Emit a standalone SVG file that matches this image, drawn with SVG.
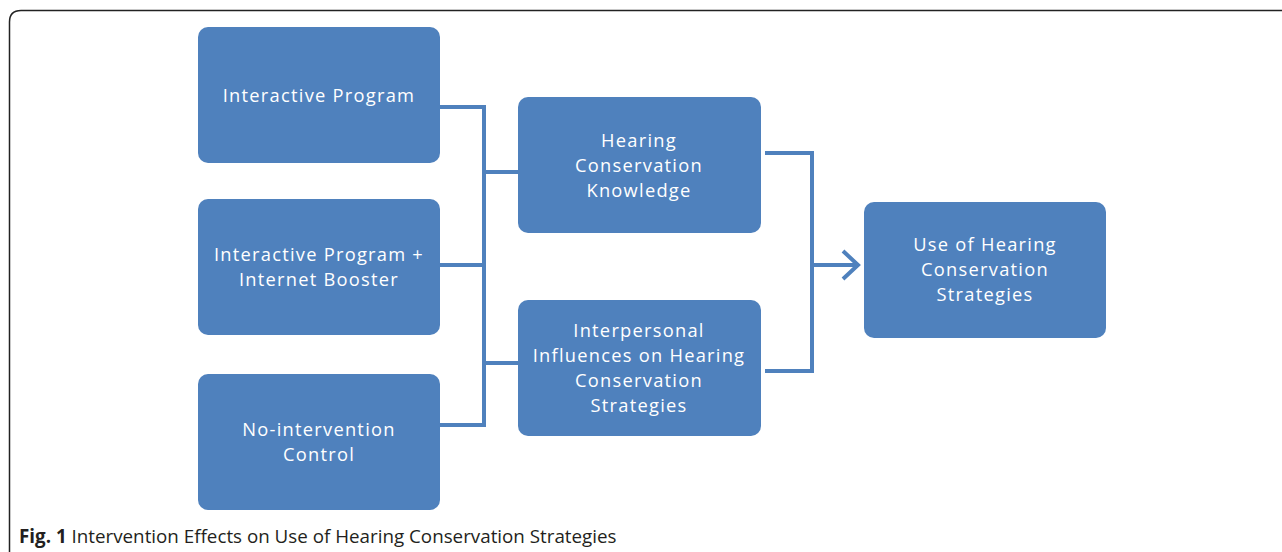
<svg xmlns="http://www.w3.org/2000/svg" width="1282" height="552" viewBox="0 0 1282 552">
<style>
.box{fill:#4F81BD;}
.t{font-family:"Open Sans","Liberation Sans",sans-serif;font-size:18.3px;letter-spacing:1.25px;fill:#FFFFFF;text-anchor:middle;}
.c{fill:none;stroke:#4F81BD;stroke-width:4;stroke-linecap:butt;stroke-linejoin:miter;}
.cap{font-family:"Open Sans","Liberation Sans",sans-serif;font-size:18.8px;fill:#231F20;}
</style>
<rect width="1282" height="552" fill="#FFFFFF"/>
<path d="M9.5,560 V22 Q9.5,10.5 21,10.5 H1290" fill="none" stroke="#222" stroke-width="1.5"/>
<g id="connectors">
<path class="c" d="M440,107 H484 V425 H440"/>
<path class="c" d="M440,265 H484"/>
<path class="c" d="M484,172 H518"/>
<path class="c" d="M484,363 H518"/>
<path class="c" d="M765,153 H812 V371 H765"/>
<path class="c" d="M812,265 H856"/>
<path class="c" d="M843,251 L858,265 L843,279" stroke-width="5" stroke-linecap="round"/>
</g>
<g id="n1"><rect class="box" x="198" y="27" width="242" height="136" rx="10"/><text class="t" x="319" y="102">Interactive Program</text></g>
<g id="n2"><rect class="box" x="198" y="199" width="242" height="136" rx="10"/><text class="t" x="319" y="261">Interactive Program +</text><text class="t" x="319" y="286">Internet Booster</text></g>
<g id="n3"><rect class="box" x="198" y="374" width="242" height="136" rx="10"/><text class="t" x="319" y="436">No-intervention</text><text class="t" x="319" y="461">Control</text></g>
<g id="n4"><rect class="box" x="518" y="97" width="243" height="136" rx="10"/><text class="t" x="639" y="147">Hearing</text><text class="t" x="639" y="172">Conservation</text><text class="t" x="639" y="197">Knowledge</text></g>
<g id="n5"><rect class="box" x="518" y="300" width="243" height="136" rx="10"/><text class="t" x="639" y="337">Interpersonal</text><text class="t" x="639" y="362">Influences on Hearing</text><text class="t" x="639" y="387">Conservation</text><text class="t" x="639" y="412">Strategies</text></g>
<g id="n6"><rect class="box" x="864" y="202" width="242" height="136" rx="10"/><text class="t" x="985" y="251">Use of Hearing</text><text class="t" x="985" y="276">Conservation</text><text class="t" x="985" y="301">Strategies</text></g>
<text class="cap" x="19" y="543"><tspan font-weight="bold">Fig. 1</tspan> Intervention Effects on Use of Hearing Conservation Strategies</text>
</svg>
